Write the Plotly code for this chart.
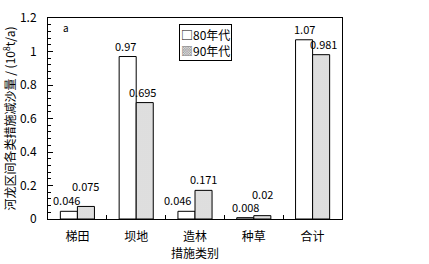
import plotly.graph_objects as go

categories = ["梯田", "坝地", "造林", "种草", "合计"]
series_names = ["80年代", "90年代"]
values_80 = [0.046, 0.97, 0.046, 0.008, 1.07]
values_90 = [0.075, 0.695, 0.171, 0.02, 0.981]
labels_80 = ["0.046", "0.97", "0.046", "0.008", "1.07"]
labels_90 = ["0.075", "0.695", "0.171", "0.02", "0.981"]
legend_symbols = ["□", "<span style='color:#888888'>▩</span>"]

# style-only label nudges (pixels)
dx_80 = [-2, -2, -9, 0, 0]
dy_80 = [0, 0, 0, 0, 0]
dx_90 = [0, -2, 0, 0, 2]
dy_90 = [9, 0, 0, 11, 0]

FONT = "Noto Sans CJK SC"

fig = go.Figure()
fig.add_trace(go.Bar(
    x=categories, y=values_80, name=series_names[0], showlegend=False,
    marker=dict(color="white", line=dict(color="black", width=1)),
))
fig.add_trace(go.Bar(
    x=categories, y=values_90, name=series_names[1], showlegend=False,
    marker=dict(color="white", line=dict(color="black", width=1),
                pattern=dict(shape=".", fgcolor="#444444", bgcolor="white", size=2, solidity=0.35)),
))

half = 8.5
for i, c in enumerate(categories):
    fig.add_annotation(x=c, y=values_80[i], text=labels_80[i], xref="x", yref="y",
                       showarrow=False, yanchor="bottom", xshift=-half + dx_80[i], yshift=1 + dy_80[i],
                       font=dict(size=11, color="black", family=FONT))
    fig.add_annotation(x=c, y=values_90[i], text=labels_90[i], xref="x", yref="y",
                       showarrow=False, yanchor="bottom", xshift=half + dx_90[i], yshift=1 + dy_90[i],
                       font=dict(size=11, color="black", family=FONT))

fig.add_annotation(x=0.06, y=0.955, xref="paper", yref="paper", text="a", showarrow=False,
                   yanchor="middle", xanchor="center",
                   font=dict(size=10, color="black", family=FONT))

# compact legend box (text glyph swatches, as in the reference)
legend_text = "<br>".join(s + n for s, n in zip(legend_symbols, series_names))
fig.add_annotation(x=0.446, y=0.97, xref="paper", yref="paper", xanchor="left", yanchor="top",
                   text=legend_text, showarrow=False, align="left",
                   bordercolor="black", borderwidth=1, borderpad=1, bgcolor="white",
                   font=dict(size=12, color="black", family=FONT))

fig.update_layout(
    width=429, height=264,
    margin=dict(l=48, r=87, t=18, b=45),
    paper_bgcolor="white", plot_bgcolor="white",
    font=dict(family=FONT, size=11, color="black"),
    barmode="group", bargap=0.42, bargroupgap=0,
    showlegend=False,
)
fig.update_xaxes(
    automargin=False,
    showline=True, linecolor="black", linewidth=1, mirror=True,
    ticks="inside", ticklen=4, tickcolor="black", tickson="boundaries",
    showgrid=False, tickfont=dict(size=12, family=FONT), ticklabelstandoff=7,
    title=dict(text="措施类别", font=dict(size=12, family=FONT), standoff=3),
)
fig.update_yaxes(
    automargin=False,
    range=[0, 1.2], tickmode="linear", tick0=0, dtick=0.2,
    showline=True, linecolor="black", linewidth=1, mirror=True,
    ticks="inside", ticklen=5, tickcolor="black", showgrid=False, zeroline=False,
    ticklabelstandoff=8,
    minor=dict(dtick=0.04, ticks="inside", ticklen=3, tickcolor="black", showgrid=False),
    tickfont=dict(size=12, family=FONT),
    title=dict(text="河龙区间各类措施减沙量 / (10<sup>8</sup>t/a)", font=dict(size=12, family=FONT), standoff=4),
)

fig.write_html("out.html")
